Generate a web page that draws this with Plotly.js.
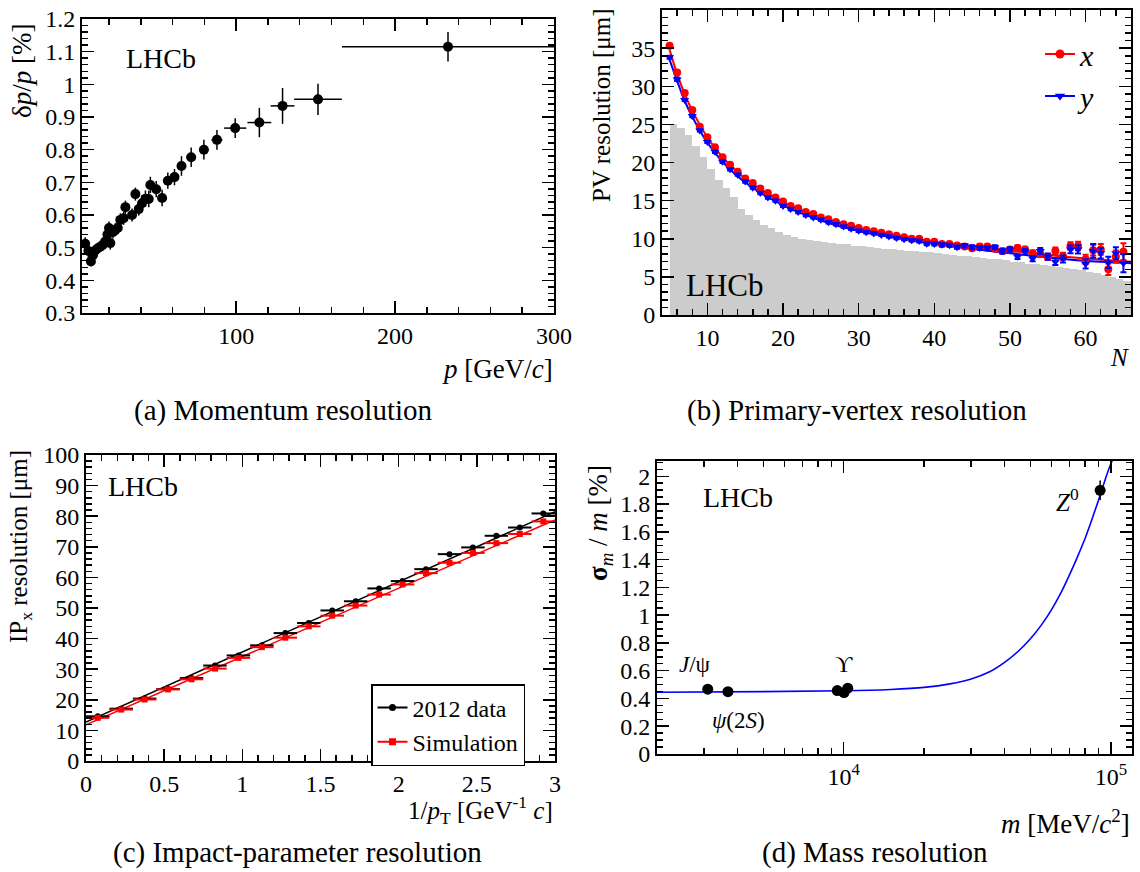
<!DOCTYPE html>
<html>
<head>
<meta charset="utf-8">
<script src="https://cdn.plot.ly/plotly-3.0.1.min.js"></script>
<style>html,body{margin:0;padding:0;background:#fff;}#chart{width:1140px;height:872px;}</style>
</head>
<body>
<div id="chart"></div>
<script>
// ---------- (a) Momentum resolution ----------
const momP      = [5.0, 7.0, 8.6, 10.0, 11.5, 13.0, 14.5, 16.0, 17.5, 19.0, 20.0, 20.8, 22.5, 24.0, 25.5, 27.1, 29.2, 30.3, 34.5, 36.6, 38.7, 40.8, 42.9, 45.0, 46.0, 49.7, 53.4, 57.0, 61.2, 65.6, 71.7, 79.7, 87.9, 99.4, 114.6, 129.2, 151.5, 233.3];
const momRes    = [0.512, 0.490, 0.458, 0.478, 0.492, 0.498, 0.503, 0.508, 0.518, 0.540, 0.560, 0.514, 0.548, 0.555, 0.560, 0.585, 0.590, 0.624, 0.600, 0.664, 0.618, 0.636, 0.650, 0.649, 0.692, 0.679, 0.652, 0.705, 0.716, 0.750, 0.777, 0.800, 0.830, 0.866, 0.883, 0.934, 0.954, 1.115];
const momPErr   = [1, 1, 1, 1, 1, 1, 1, 1, 1, 1, 1, 1, 1, 1, 1, 1, 1, 1, 1, 1, 1, 1, 1, 1, 1, 1.5, 1.5, 2, 2, 2, 3, 3, 3.5, 7, 7.5, 7.5, 15, 66.7];
const momResErr = [0.02, 0.02, 0.015, 0.015, 0.015, 0.015, 0.015, 0.015, 0.015, 0.02, 0.02, 0.02, 0.02, 0.02, 0.02, 0.02, 0.02, 0.02, 0.02, 0.02, 0.02, 0.025, 0.025, 0.025, 0.025, 0.025, 0.025, 0.025, 0.025, 0.03, 0.03, 0.03, 0.03, 0.03, 0.045, 0.055, 0.048, 0.045];

// ---------- (b) Primary-vertex resolution ----------
const pvN     = [5,6,7,8,9,10,11,12,13,14,15,16,17,18,19,20,21,22,23,24,25,26,27,28,29,30,31,32,33,34,35,36,37,38,39,40,41,42,43,44,45,46,47,48,49,50,51,52,53,54,55,56,57,58,59,60,61,62,63,64,65];
const pvX     = [35.3,31.8,29.1,26.9,24.7,23.3,22.0,20.7,19.7,18.8,17.9,17.3,16.6,16.0,15.4,14.9,14.3,14.0,13.5,13.25,12.8,12.55,12.2,11.9,11.7,11.4,11.15,11.0,10.8,10.6,10.4,10.2,10.0,10.0,9.6,9.6,9.3,9.3,9.1,9.0,8.75,9.0,9.0,8.7,8.4,8.6,8.8,8.6,8.1,8.0,7.6,8.4,7.7,9.05,9.05,7.3,8.5,8.6,6.0,7.65,8.3];
const pvXErr  = [0.2,0.2,0.15,0.15,0.15,0.15,0.15,0.15,0.15,0.15,0.15,0.15,0.15,0.15,0.15,0.15,0.15,0.15,0.15,0.15,0.15,0.15,0.15,0.15,0.15,0.15,0.15,0.15,0.15,0.15,0.15,0.15,0.15,0.2,0.2,0.2,0.2,0.2,0.2,0.2,0.25,0.25,0.25,0.25,0.3,0.3,0.3,0.35,0.35,0.4,0.4,0.45,0.45,0.5,0.55,0.6,0.7,0.7,0.75,0.8,1.1];
const pvY     = [33.8,30.9,28.2,26.1,24.2,22.7,21.4,20.1,19.1,18.4,17.5,16.7,16.0,15.4,15.0,14.3,13.9,13.5,13.1,12.8,12.5,12.15,11.9,11.6,11.3,11.05,10.85,10.7,10.5,10.3,10.1,9.95,9.8,9.7,9.35,9.3,9.2,9.15,8.9,9.1,8.9,8.8,8.75,8.9,8.35,8.6,7.65,8.3,7.4,8.4,7.65,7.0,7.35,8.6,8.6,6.7,8.4,8.1,6.9,8.1,6.8];
const pvYErr  = [0.2,0.2,0.15,0.15,0.15,0.15,0.15,0.15,0.15,0.15,0.15,0.15,0.15,0.15,0.15,0.15,0.15,0.15,0.15,0.15,0.15,0.15,0.15,0.15,0.15,0.15,0.15,0.15,0.15,0.15,0.15,0.15,0.15,0.2,0.2,0.2,0.2,0.2,0.2,0.2,0.25,0.25,0.25,0.25,0.3,0.3,0.3,0.35,0.35,0.4,0.4,0.45,0.45,0.5,0.55,0.6,0.9,0.7,0.75,0.8,1.2];
const pvHist  = [25.0,24.5,23.6,22.2,20.7,19.2,17.7,16.6,15.5,13.9,13.1,12.4,11.8,11.4,10.9,10.5,10.25,10.0,9.85,9.7,9.55,9.45,9.35,9.25,9.1,9.0,8.9,8.8,8.7,8.65,8.55,8.45,8.4,8.3,8.2,8.1,8.0,7.9,7.8,7.7,7.6,7.5,7.4,7.3,7.15,7.0,6.9,6.75,6.65,6.5,6.4,6.25,6.1,6.0,5.85,5.7,5.5,5.25,5.0,4.7,4.4];
const pvFitN  = [5, 6, 7, 8, 10, 12, 15, 20, 25, 30, 40, 50, 60, 66];
const pvFitX  = [34.8, 31.6, 29.0, 26.8, 23.3, 20.7, 17.9, 14.8, 12.8, 11.4, 9.6, 8.4, 7.4, 7.0];
const pvFitY  = [33.5, 30.7, 28.1, 26.0, 22.6, 20.1, 17.4, 14.4, 12.4, 11.0, 9.3, 8.1, 7.1, 6.8];

// ---------- (c) Impact-parameter resolution ----------
const ipInvPt   = [0.075,0.225,0.375,0.525,0.675,0.825,0.975,1.125,1.275,1.425,1.575,1.725,1.875,2.025,2.175,2.325,2.475,2.625,2.775,2.925];
const ipBinHalf = [0.075,0.075,0.075,0.075,0.075,0.075,0.075,0.075,0.075,0.075,0.075,0.075,0.075,0.075,0.075,0.075,0.075,0.075,0.075,0.075];
const ipErr     = [0.4,0.4,0.4,0.4,0.4,0.4,0.4,0.4,0.4,0.4,0.4,0.4,0.4,0.4,0.4,0.4,0.4,0.4,0.4,0.4];
const ipData    = [14.6,17.1,20.4,23.5,27.1,31.2,34.5,37.8,41.8,45.1,49.2,52.2,56.4,58.8,62.7,67.6,69.8,73.6,76.3,80.9];
const ipSim     = [14.1,16.8,20.1,23.4,26.7,30.2,33.7,37.2,40.3,44.0,47.5,50.8,54.4,57.7,61.4,64.8,68.0,71.2,74.2,78.3];
const ipFitX    = [0, 3];
const ipFitData = [12.7, 81.5];
const ipFitSim  = [11.8, 78.8];

// ---------- (d) Mass resolution ----------
const massM    = [3097, 3686, 9460, 10023, 10355, 91188];
const massRes  = [0.467, 0.449, 0.457, 0.442, 0.474, 1.899];
const massErr  = [0.008, 0.008, 0.008, 0.008, 0.008, 0.07];
const massFitM = [2000, 5000, 10000, 15000, 20000, 25000, 30000, 35000, 40000, 45000, 50000, 55000, 60000, 65000, 70000, 75000, 80000, 85000, 90000, 95000, 100000, 103000];
const massFitR = [0.445, 0.449, 0.455, 0.465, 0.48, 0.505, 0.54, 0.59, 0.66, 0.74, 0.83, 0.93, 1.04, 1.16, 1.29, 1.42, 1.55, 1.69, 1.83, 1.97, 2.09, 2.14];

// ---------- helpers ----------
const W = 1140, H = 872;
const px = v => v / W;
const py = v => 1 - v / H;
const FONT = "Liberation Serif";
const RED = "#ff0000", BLUE = "#0000ff";

function axisStyle(extra) {
  return Object.assign({
    showline: true, linecolor: "#000", linewidth: 2, mirror: "allticks",
    ticks: "inside", ticklen: 12, tickwidth: 1.5, tickcolor: "#000",
    showgrid: false, zeroline: false, fixedrange: true,
    tickfont: {family: FONT, size: 24, color: "#000"}
  }, extra);
}
const MINOR = {ticks: "inside", ticklen: 6, tickwidth: 1.5, tickcolor: "#000"};
const minor = extra => Object.assign({}, MINOR, extra);

const traces = [];

// (a)
traces.push({
  type: "scatter", mode: "markers", xaxis: "x", yaxis: "y", showlegend: false,
  x: momP, y: momRes,
  error_x: {type: "data", array: momPErr, color: "#000", thickness: 1.5, width: 0},
  error_y: {type: "data", array: momResErr, color: "#000", thickness: 1.5, width: 0},
  marker: {color: "#000", size: 10, symbol: "circle"}
});

// (b)
traces.push({
  type: "bar", xaxis: "x2", yaxis: "y2", showlegend: false,
  x: pvN, y: pvHist, offset: 0, width: 1,
  marker: {color: "#cccccc", line: {width: 0}}
});
traces.push({
  type: "scatter", mode: "lines", xaxis: "x2", yaxis: "y2", showlegend: false,
  x: pvFitN, y: pvFitX, line: {color: RED, width: 2, shape: "spline"}
});
traces.push({
  type: "scatter", mode: "lines", xaxis: "x2", yaxis: "y2", showlegend: false,
  x: pvFitN, y: pvFitY, line: {color: BLUE, width: 2, shape: "spline"}
});
traces.push({
  type: "scatter", mode: "markers", xaxis: "x2", yaxis: "y2", showlegend: false,
  x: pvN, y: pvX,
  error_y: {type: "data", array: pvXErr, color: RED, thickness: 2, width: 3},
  marker: {color: RED, size: 8, symbol: "circle"}
});
traces.push({
  type: "scatter", mode: "markers", xaxis: "x2", yaxis: "y2", showlegend: false,
  x: pvN, y: pvY,
  error_y: {type: "data", array: pvYErr, color: BLUE, thickness: 2, width: 3},
  marker: {color: BLUE, size: 8, symbol: "triangle-down"}
});
traces.push({
  type: "scatter", mode: "lines+markers", xaxis: "x2", yaxis: "y2", legend: "legend2",
  name: "<i>x</i>", x: [null], y: [null],
  line: {color: RED, width: 2}, marker: {color: RED, size: 9, symbol: "circle"}
});
traces.push({
  type: "scatter", mode: "lines+markers", xaxis: "x2", yaxis: "y2", legend: "legend2",
  name: "<i>y</i>", x: [null], y: [null],
  line: {color: BLUE, width: 2}, marker: {color: BLUE, size: 9, symbol: "triangle-down"}
});

// (c)
traces.push({
  type: "scatter", mode: "lines", xaxis: "x3", yaxis: "y3", showlegend: false,
  x: ipFitX, y: ipFitData, line: {color: "#000", width: 1.5}
});
traces.push({
  type: "scatter", mode: "lines", xaxis: "x3", yaxis: "y3", showlegend: false,
  x: ipFitX, y: ipFitSim, line: {color: RED, width: 1.5}
});
traces.push({
  type: "scatter", mode: "markers", xaxis: "x3", yaxis: "y3", showlegend: false,
  x: ipInvPt, y: ipData,
  error_x: {type: "data", array: ipBinHalf, color: "#000", thickness: 2, width: 0},
  error_y: {type: "data", array: ipErr, color: "#000", thickness: 2, width: 0},
  marker: {color: "#000", size: 6, symbol: "circle"}
});
traces.push({
  type: "scatter", mode: "markers", xaxis: "x3", yaxis: "y3", showlegend: false,
  x: ipInvPt, y: ipSim,
  error_x: {type: "data", array: ipBinHalf, color: RED, thickness: 2, width: 0},
  error_y: {type: "data", array: ipErr, color: RED, thickness: 2, width: 0},
  marker: {color: RED, size: 6, symbol: "square"}
});
traces.push({
  type: "scatter", mode: "lines+markers", xaxis: "x3", yaxis: "y3", legend: "legend",
  name: "2012 data", x: [null], y: [null],
  line: {color: "#000", width: 2}, marker: {color: "#000", size: 7, symbol: "circle"}
});
traces.push({
  type: "scatter", mode: "lines+markers", xaxis: "x3", yaxis: "y3", legend: "legend",
  name: "Simulation", x: [null], y: [null],
  line: {color: RED, width: 2}, marker: {color: RED, size: 7, symbol: "square"}
});

// (d)
traces.push({
  type: "scatter", mode: "lines", xaxis: "x4", yaxis: "y4", showlegend: false,
  x: massFitM, y: massFitR, line: {color: BLUE, width: 1.6, shape: "spline"}
});
traces.push({
  type: "scatter", mode: "markers", xaxis: "x4", yaxis: "y4", showlegend: false,
  x: massM, y: massRes,
  error_y: {type: "data", array: massErr, color: "#000", thickness: 1.5, width: 0},
  marker: {color: "#000", size: 11, symbol: "circle"}
});

function ann(text, x, y, size, opts) {
  return Object.assign({
    text: text, xref: "paper", yref: "paper", x: px(x), y: py(y),
    xanchor: "left", yanchor: "middle", showarrow: false,
    font: {family: FONT, size: size, color: "#000"}
  }, opts || {});
}

const annotations = [
  ann("LHCb", 124, 59, 28),
  ann("LHCb", 684, 285, 31),
  ann("LHCb", 106, 486, 28),
  ann("LHCb", 701, 498, 28),
  ann("δ<i>p</i>/<i>p</i> [%]", 22, 71, 27, {textangle: -90, xanchor: "center"}),
  ann("<i>p</i> [GeV/<i>c</i>]", 555, 369, 27, {xanchor: "right"}),
  ann("PV resolution [μm]", 601, 105, 25, {textangle: -90, xanchor: "center"}),
  ann("<i>N</i>", 1131, 357, 25, {xanchor: "right"}),
  ann("IP<sub>x</sub> resolution [μm]", 20, 547, 25, {textangle: -90, xanchor: "center"}),
  ann("1/<i>p</i><sub>T</sub> [GeV<sup>-1</sup> <i>c</i>]", 555, 810, 25, {xanchor: "right"}),
  ann("<b>σ</b><sub><i>m</i></sub> / <i>m</i> [%]", 600, 523, 27, {textangle: -90, xanchor: "center"}),
  ann("<i>m</i> [MeV/<i>c</i><sup>2</sup>]", 1132, 822, 27, {xanchor: "right"}),
  ann("<i>J</i>/ψ", 677, 664, 23),
  ann("<i>ψ</i>(2<i>S</i>)", 710, 720, 23),
  ann("ϒ", 844, 664, 24, {xanchor: "center"}),
  ann("<i>Z</i><sup>0</sup>", 1054, 500, 25),
  ann("(a) Momentum resolution", 283, 410, 29, {xanchor: "center"}),
  ann("(b) Primary-vertex resolution", 857, 410, 29, {xanchor: "center"}),
  ann("(c) Impact-parameter resolution", 297, 852, 29, {xanchor: "center"}),
  ann("(d) Mass resolution", 875, 852, 29, {xanchor: "center"})
];

const layout = {
  width: W, height: H,
  margin: {l: 0, r: 0, t: 0, b: 0},
  paper_bgcolor: "#fff", plot_bgcolor: "#fff",
  bargap: 0,
  showlegend: true,
  font: {family: FONT, color: "#000"},
  xaxis: axisStyle({domain: [px(82), px(554)], anchor: "y", range: [3, 300],
    tickmode: "array", tickvals: [100, 200, 300],
    minor: minor({dtick: 20, tick0: 0})}),
  yaxis: axisStyle({domain: [py(313), py(19)], anchor: "x", range: [0.3, 1.2], dtick: 0.1, tick0: 0,
    minor: minor({dtick: 0.02, tick0: 0})}),
  xaxis2: axisStyle({domain: [px(662), px(1131)], anchor: "y2", range: [4, 66], dtick: 10, tick0: 0,
    minor: minor({dtick: 2, tick0: 0})}),
  yaxis2: axisStyle({domain: [py(315), py(10)], anchor: "x2", range: [0, 40], dtick: 5, tick0: 0,
    minor: minor({dtick: 1, tick0: 0})}),
  xaxis3: axisStyle({domain: [px(86), px(555)], anchor: "y3", range: [0, 3], dtick: 0.5, tick0: 0,
    minor: minor({dtick: 0.1, tick0: 0})}),
  yaxis3: axisStyle({domain: [py(761), py(455)], anchor: "x3", range: [0, 100], dtick: 10, tick0: 0,
    minor: minor({dtick: 2, tick0: 0})}),
  xaxis4: axisStyle({domain: [px(657), px(1132)], anchor: "y4", type: "log",
    range: [Math.log10(2000), Math.log10(120000)],
    tickmode: "array", tickvals: [10000, 100000], ticktext: ["10<sup>4</sup>", "10<sup>5</sup>"],
    minor: minor({tickmode: "array", tickvals: [2000,3000,4000,5000,6000,7000,8000,9000,20000,30000,40000,50000,60000,70000,80000,90000]})}),
  yaxis4: axisStyle({domain: [py(754), py(461)], anchor: "x4", range: [0, 2.11], dtick: 0.2, tick0: 0,
    minor: minor({dtick: 0.05, tick0: 0})}),
  legend: {x: px(371), y: py(684), xanchor: "left", yanchor: "top",
    bgcolor: "#fff", bordercolor: "#000", borderwidth: 1.5,
    font: {family: FONT, size: 24, color: "#000"}, tracegroupgap: 0},
  legend2: {x: px(1040), y: py(28), xanchor: "left", yanchor: "top",
    bgcolor: "rgba(0,0,0,0)", borderwidth: 0,
    font: {family: FONT, size: 30, color: "#000"}, tracegroupgap: 0},
  annotations: annotations
};

Plotly.newPlot("chart", traces, layout, {staticPlot: true, displayModeBar: false});
</script>
</body>
</html>
